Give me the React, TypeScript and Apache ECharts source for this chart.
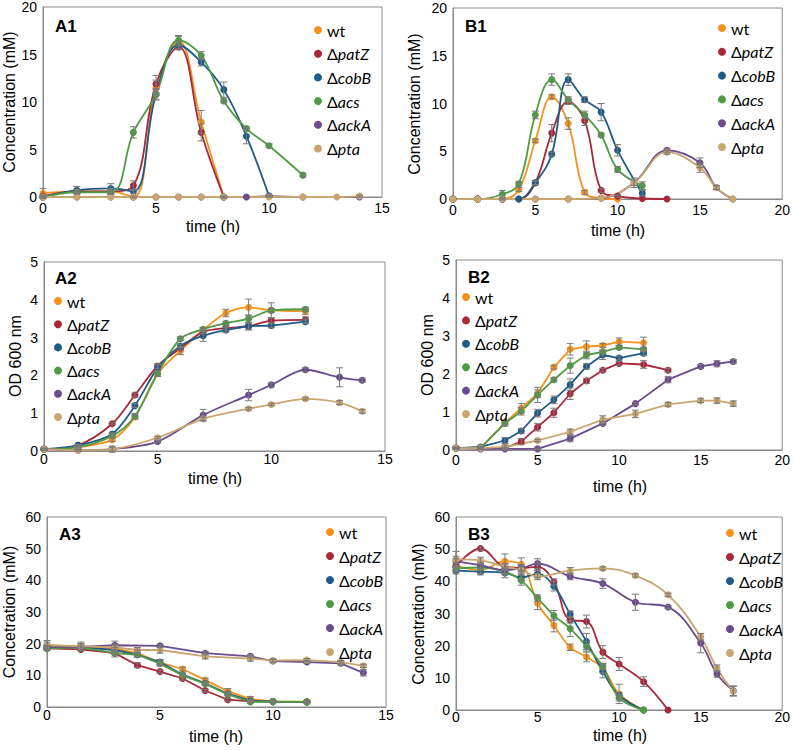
import React, { useEffect, useRef } from "react";
import * as echarts from "echarts";

// strain names and colours
const NAMES = ["wt", "ΔpatZ", "ΔcobB", "Δacs", "ΔackA", "Δpta"];
const COLORS = ["#F5921E", "#A8283A", "#1F5B86", "#4F9A43", "#6A4B8C", "#C9A56F"];
const X_TITLE = "time (h)";

// data points: [time (h), value, error]
// ---- A1: acetate (mM) ----
const A1_wt = [[0, 0.4, 0.5], [1.5, 0.6, 0.2], [3, 0.6, 0.3], [4, 0, 0.1], [5, 11.5, 0.8], [6, 16.4, 0.5], [7, 7.9, 1.2], [8, 0, 0.1]];
const A1_patZ = [[0, 0.1, 0.1], [1.5, 0.6, 0.2], [3, 0.6, 0.3], [4, 1.2, 0.5], [5, 11.9, 0.9], [6, 15.8, 0.3], [7, 6.8, 0.9], [8, 0, 0.1]];
const A1_cobB = [[0, 0, 0.1], [1.5, 0.7, 0.4], [3, 0.9, 0.5], [4, 0.6, 0.2], [5, 10.8, 0.5], [6, 16.0, 0.4], [7, 14.2, 0.4], [8, 11.3, 0.8], [9, 6.4, 0.8], [10, 0.1, 0.1]];
const A1_acs = [[0, 0, 0.1], [1.5, 0.5, 0.1], [3, 0.5, 0.2], [4, 6.8, 0.6], [5, 10.8, 0.6], [6, 16.5, 0.5], [7, 14.9, 0.4], [8, 10.1, 0.2], [9, 7.2, 0.2], [10, 5.4, 0.2], [11.5, 2.3, 0.2]];
const A1_ackA = [[0, 0, 0], [1.5, 0, 0], [3, 0, 0], [4, 0, 0], [5, 0, 0], [6, 0, 0], [7, 0, 0], [8, 0, 0], [9, 0, 0], [10, 0.1, 0.1], [11.5, 0, 0], [14, 0, 0]];
const A1_pta = [[0, 0, 0], [1.5, 0, 0], [3, 0, 0], [4, 0, 0], [5, 0, 0], [6, 0, 0], [7, 0, 0], [8, 0, 0], [10, 0, 0], [11.5, 0, 0], [13, 0, 0], [14, 0.1, 0.1]];

// ---- B1 ----
const B1_wt = [[0, 0, 0], [1.5, 0, 0], [3, 0, 0.1], [4, 1.0, 0.2], [5, 6.1, 0.2], [6, 10.7, 0.2], [7, 7.9, 0.6], [8, 0.7, 0.2], [9, 0.1, 0], [10, 0, 0]];
const B1_patZ = [[0, 0, 0], [1.5, 0, 0], [3, 0, 0], [4, 0, 0], [5, 1.7, 0.2], [6, 6.9, 0.9], [7, 10.2, 0.3], [8, 8.2, 0.5], [9, 0.9, 0.2], [10, 0.3, 0.1], [11.5, 0.05, 0], [13, 0, 0]];
const B1_cobB = [[0, 0, 0], [1.5, 0, 0], [3, 0, 0], [4, 0, 0], [5, 1.7, 0.2], [6, 4.7, 0.2], [7, 12.5, 0.6], [8, 10.4, 0.3], [9, 9.1, 0.9], [10, 5.1, 0.6], [11.5, 0.6, 0.3]];
const B1_acs = [[0, 0, 0], [1.5, 0, 0], [3, 0.5, 0.4], [4, 1.6, 0.2], [5, 8.8, 0.4], [6, 12.5, 0.6], [7, 10.4, 0.3], [8, 8.8, 0.4], [9, 6.7, 0.2], [10, 3.1, 0.3], [11.5, 1.4, 0.4]];
const B1_ackA = [[0, 0, 0], [1.5, 0, 0], [3, 0, 0], [5, 0, 0], [7, 0, 0], [9, 0.1, 0], [11, 1.7, 0.3], [13, 5.1, 0.2], [15, 3.8, 0.5], [16, 1.2, 0.2], [17, 0, 0]];
const B1_pta = [[0, 0, 0], [1.5, 0, 0], [3, 0, 0], [5, 0, 0], [7, 0, 0], [9, 0.1, 0], [11, 1.7, 0.5], [13, 4.9, 0.2], [15, 3.3, 0.5], [16, 1.2, 0.2], [17, 0, 0]];

// ---- A2: OD 600 nm ----
const A2_wt = [[0, 0.05, 0.02], [1.5, 0.1, 0.02], [3, 0.3, 0.05], [4, 0.9, 0.05], [5, 2.05, 0.08], [6, 2.65, 0.1], [7, 3.2, 0.05], [8, 3.65, 0.1], [9, 3.8, 0.22], [10, 3.72, 0.2], [11.5, 3.7, 0.08]];
const A2_patZ = [[0, 0.05, 0.02], [1.5, 0.15, 0.02], [3, 0.72, 0.03], [4, 1.48, 0.05], [5, 2.25, 0.06], [6, 2.72, 0.05], [7, 3.15, 0.05], [8, 3.25, 0.05], [9, 3.3, 0.08], [10, 3.45, 0.08], [11.5, 3.47, 0.08]];
const A2_cobB = [[0, 0.05, 0.02], [1.5, 0.15, 0.02], [3, 0.45, 0.03], [4, 1.2, 0.05], [5, 2.2, 0.08], [6, 2.78, 0.05], [7, 3.05, 0.15], [8, 3.2, 0.06], [9, 3.3, 0.1], [10, 3.32, 0.06], [11.5, 3.42, 0.05]];
const A2_acs = [[0, 0.05, 0.02], [1.5, 0.1, 0.02], [3, 0.4, 0.03], [4, 0.92, 0.07], [5, 2.05, 0.07], [6, 2.97, 0.05], [7, 3.22, 0.05], [8, 3.38, 0.05], [9, 3.5, 0.1], [10, 3.72, 0.05], [11.5, 3.75, 0.05]];
const A2_ackA = [[0, 0.05, 0.02], [1.5, 0.02, 0.02], [3, 0.05, 0.08], [5, 0.25, 0.03], [7, 0.95, 0.15], [9, 1.48, 0.15], [10, 1.75, 0.05], [11.5, 2.15, 0.05], [13, 1.95, 0.25], [14, 1.87, 0.05]];
const A2_pta = [[0, 0.05, 0.02], [1.5, 0.02, 0.02], [3, 0.05, 0.05], [5, 0.35, 0.03], [7, 0.85, 0.05], [9, 1.12, 0.03], [10, 1.23, 0.03], [11.5, 1.38, 0.03], [13, 1.28, 0.05], [14, 1.05, 0.05]];

// ---- B2 ----
const B2_wt = [[0, 0.05, 0.02], [1.5, 0.05, 0.02], [3, 0.72, 0.05], [4, 1.1, 0.12], [5, 1.48, 0.1], [6, 2.18, 0.05], [7, 2.65, 0.15], [8, 2.72, 0.15], [9, 2.75, 0.05], [10, 2.85, 0.1], [11.5, 2.82, 0.15]];
const B2_patZ = [[0, 0.05, 0.02], [1.5, 0.05, 0.02], [3, 0.05, 0.02], [4, 0.22, 0.08], [5, 0.6, 0.1], [6, 0.98, 0.12], [7, 1.48, 0.15], [8, 1.82, 0.07], [9, 2.1, 0.05], [10, 2.28, 0.05], [11.5, 2.25, 0.1], [13, 2.1, 0.05]];
const B2_cobB = [[0, 0.05, 0.02], [1.5, 0.08, 0.02], [3, 0.25, 0.08], [4, 0.5, 0.06], [5, 0.97, 0.1], [6, 1.32, 0.1], [7, 1.72, 0.15], [8, 2.2, 0.07], [9, 2.5, 0.12], [10, 2.42, 0.05], [11.5, 2.55, 0.06]];
const B2_acs = [[0, 0.05, 0.02], [1.5, 0.05, 0.02], [3, 0.7, 0.07], [4, 1.02, 0.1], [5, 1.45, 0.2], [6, 1.85, 0.05], [7, 2.22, 0.2], [8, 2.5, 0.1], [9, 2.58, 0.05], [10, 2.7, 0.05], [11.5, 2.65, 0.05]];
const B2_ackA = [[0, 0.05, 0.02], [1.5, 0.03, 0.02], [3, 0.03, 0.02], [5, 0.03, 0.02], [7, 0.3, 0.08], [9, 0.7, 0.05], [11, 1.22, 0.03], [13, 1.85, 0.08], [15, 2.2, 0.05], [16, 2.27, 0.08], [17, 2.33, 0.05]];
const B2_pta = [[0, 0.05, 0.02], [1.5, 0.05, 0.02], [3, 0.08, 0.05], [5, 0.25, 0.03], [7, 0.48, 0.07], [9, 0.8, 0.1], [11, 0.95, 0.1], [13, 1.2, 0.05], [15, 1.3, 0.05], [16, 1.3, 0.07], [17, 1.22, 0.07]];

// ---- A3: glucose (mM) ----
const A3_wt = [[0, 19.5, 1.5], [1.5, 19, 1], [3, 18.5, 1], [4, 17, 1], [5, 14, 1], [6, 12, 0.6], [7, 8.5, 0.6], [8, 5, 0.8], [9, 2.5, 0.8], [10, 1.8, 0.3], [11.5, 1.7, 0.3]];
const A3_patZ = [[0, 18.5, 0.5], [1.5, 18.2, 0.5], [3, 17, 1.2], [4, 13.2, 0.8], [5, 11.2, 0.5], [6, 9, 0.5], [7, 5.2, 0.4], [8, 2.3, 0.4], [9, 1.8, 0.3], [10, 1.7, 0.3], [11.5, 1.6, 0.3]];
const A3_cobB = [[0, 18.8, 0.5], [1.5, 18.8, 0.5], [3, 18, 0.8], [4, 16.5, 0.8], [5, 14.2, 0.8], [6, 10.2, 0.5], [7, 7.5, 0.5], [8, 4.2, 0.5], [9, 2, 0.3], [10, 1.7, 0.3], [11.5, 1.6, 0.3]];
const A3_acs = [[0, 18.5, 0.5], [1.5, 18.8, 0.5], [3, 17, 0.5], [4, 16.5, 0.5], [5, 13.7, 0.5], [6, 10, 0.5], [7, 7.3, 0.5], [8, 4, 0.5], [9, 1.6, 0.3], [10, 1.7, 0.3], [11.5, 1.6, 0.3]];
const A3_ackA = [[0, 19, 0.5], [1.5, 19, 1], [3, 19.5, 1.3], [5, 19.3, 0.5], [7, 17, 0.5], [9, 16, 0.5], [10, 14.5, 0.5], [11.5, 14.2, 0.5], [13, 13.8, 0.5], [14, 10.8, 1]];
const A3_pta = [[0, 19.5, 1], [1.5, 19.2, 1.3], [3, 18.8, 1], [4, 18, 0.8], [5, 18, 1], [7, 16, 0.8], [9, 15.3, 0.8], [10, 14.7, 0.5], [11.5, 14.8, 0.5], [13, 14.2, 0.5], [14, 13, 0.5]];

// ---- B3 ----
const B3_wt = [[0, 45, 2], [1.5, 43.5, 1], [3, 46.2, 2.3], [4, 45.3, 2], [5, 33.2, 2], [6, 26.3, 2], [7, 19.5, 1], [8, 16.5, 1.5], [9, 13, 1.5], [10, 5, 3], [11.5, 0, 0]];
const B3_patZ = [[0, 44.7, 1], [1.5, 50.2, 0.5], [3, 44.5, 1], [4, 44.2, 1], [5, 44.5, 1], [6, 39.8, 1], [7, 28, 1], [8, 27.5, 2], [9, 18, 2], [10, 14.3, 2], [11.5, 8.8, 1.5], [13, 0, 0]];
const B3_cobB = [[0, 43.3, 1], [1.5, 43, 1], [3, 42.6, 1.5], [4, 41.2, 1], [5, 42.3, 1], [6, 38.5, 1.5], [7, 29.8, 1], [8, 21.3, 2.5], [9, 12, 2], [10, 4.5, 1], [11.5, 0, 0]];
const B3_acs = [[0, 44, 1], [1.5, 44.3, 1], [3, 43, 1], [4, 40.3, 1.5], [5, 34.8, 1], [6, 29.4, 1.5], [7, 25.3, 2.5], [8, 19.8, 1.5], [9, 13.5, 1], [10, 3.8, 1], [11.5, 0, 0]];
const B3_ackA = [[0, 46.3, 1.5], [1.5, 45, 1], [3, 43.5, 1], [4, 44, 1], [5, 45.5, 1.5], [7, 41.5, 1], [9, 39.3, 1.5], [11, 33.5, 2.5], [13, 32, 0.5], [15, 20.8, 3], [16, 11.2, 1], [17, 6, 1.5]];
const B3_pta = [[0, 46.8, 2.5], [1.5, 46.5, 1], [3, 44.5, 1], [4, 43.5, 1], [5, 41.5, 1], [7, 43.3, 1], [9, 44, 0.5], [11, 41.8, 0.5], [13, 35.8, 0.5], [15, 22.8, 1], [16, 13, 1], [17, 5.8, 1.5]];

type Panel = {
  id: string;
  series: number[][][];
  grid: { left: number; top: number; width: number; height: number };
  xMax: number;
  yMax: number;
  yInt: number;
  yName: string;
  yTitlePos: [number, number];
  xTitlePos: [number, number];
  xLabelMargin: number;
  smooth: number | false;
  legend: { left: number; top: number; gap: number };
  label: { left: number; top: number };
};

const PANELS: Panel[] = [
  {
    id: "A1", series: [A1_wt, A1_patZ, A1_cobB, A1_acs, A1_ackA, A1_pta],
    grid: { left: 43, top: 7, width: 339, height: 190 }, xMax: 15, yMax: 20, yInt: 5,
    yName: "Concentration (mM)", yTitlePos: [9, 102], xTitlePos: [213, 226], xLabelMargin: 4, smooth: 0.4,
    legend: { left: 314, top: 22, gap: 7.7 }, label: { left: 55, top: 18 },
  },
  {
    id: "B1", series: [B1_wt, B1_patZ, B1_cobB, B1_acs, B1_ackA, B1_pta],
    grid: { left: 453, top: 8, width: 331, height: 191 }, xMax: 20, yMax: 20, yInt: 5,
    yName: "Concentration (mM)", yTitlePos: [414, 104], xTitlePos: [618, 230], xLabelMargin: 4, smooth: 0.4,
    legend: { left: 718, top: 20, gap: 7.8 }, label: { left: 465, top: 18 },
  },
  {
    id: "A2", series: [A2_wt, A2_patZ, A2_cobB, A2_acs, A2_ackA, A2_pta],
    grid: { left: 44, top: 262, width: 341, height: 189 }, xMax: 15, yMax: 5, yInt: 1,
    yName: "OD 600 nm", yTitlePos: [15, 356], xTitlePos: [215, 478], xLabelMargin: 1, smooth: 0.3,
    legend: { left: 54, top: 293, gap: 7.2 }, label: { left: 55, top: 270 },
  },
  {
    id: "B2", series: [B2_wt, B2_patZ, B2_cobB, B2_acs, B2_ackA, B2_pta],
    grid: { left: 456, top: 260, width: 329, height: 190 }, xMax: 20, yMax: 5, yInt: 1,
    yName: "OD 600 nm", yTitlePos: [427, 355], xTitlePos: [620, 486], xLabelMargin: 3, smooth: false,
    legend: { left: 462, top: 289, gap: 7.4 }, label: { left: 468, top: 269 },
  },
  {
    id: "A3", series: [A3_wt, A3_patZ, A3_cobB, A3_acs, A3_ackA, A3_pta],
    grid: { left: 47, top: 517, width: 339, height: 190 }, xMax: 15, yMax: 60, yInt: 10,
    yName: "Concetration (mM)", yTitlePos: [9, 612], xTitlePos: [216, 736], xLabelMargin: 1, smooth: false,
    legend: { left: 326, top: 524, gap: 8 }, label: { left: 59, top: 526 },
  },
  {
    id: "B3", series: [B3_wt, B3_patZ, B3_cobB, B3_acs, B3_ackA, B3_pta],
    grid: { left: 456, top: 517, width: 327, height: 193 }, xMax: 20, yMax: 60, yInt: 10,
    yName: "Concentration (mM)", yTitlePos: [418, 614], xTitlePos: [620, 735], xLabelMargin: 0, smooth: 0.4,
    legend: { left: 726, top: 525, gap: 8 }, label: { left: 468, top: 526 },
  },
];

const FRAME = "#8a8a8a";
const FONT = "Liberation Sans, Arial, sans-serif";
const LEGEND_FONT = "Lato, 'Open Sans', sans-serif";

function buildOption() {
  const series: any[] = [];
  PANELS.forEach((p, pi) => {
    p.series.forEach((pts, si) => {
      series.push({
        type: "line",
        name: NAMES[si],
        xAxisIndex: pi,
        yAxisIndex: pi,
        data: pts.map((d) => [d[0], d[1]]),
        smooth: p.smooth,
        symbol: "circle",
        symbolSize: 7,
        showSymbol: true,
        color: COLORS[si],
        lineStyle: { width: 1.8, color: COLORS[si] },
        itemStyle: { color: COLORS[si] },
        emphasis: { disabled: true },
        z: 2,
      });
    });
    const all: number[][] = [];
    p.series.forEach((pts) => pts.forEach((d) => all.push(d)));
    series.push({
      type: "custom",
      xAxisIndex: pi,
      yAxisIndex: pi,
      data: all,
      encode: { x: 0, y: 1 },
      z: 3,
      silent: true,
      renderItem: (params: any, api: any) => {
        const x = api.value(0);
        const y = api.value(1);
        const e = api.value(2);
        if (!e) return null;
        const top = api.coord([x, y + e]);
        const bot = api.coord([x, y - e]);
        const cap = 3.5;
        const st = { stroke: "#7a7a7a", lineWidth: 1 };
        return {
          type: "group",
          children: [
            { type: "line", shape: { x1: top[0], y1: top[1], x2: bot[0], y2: bot[1] }, style: st },
            { type: "line", shape: { x1: top[0] - cap, y1: top[1], x2: top[0] + cap, y2: top[1] }, style: st },
            { type: "line", shape: { x1: bot[0] - cap, y1: bot[1], x2: bot[0] + cap, y2: bot[1] }, style: st },
          ],
        };
      },
    });
  });

  const graphics: any[] = [];
  PANELS.forEach((p) => {
    graphics.push({
      type: "text",
      x: p.yTitlePos[0],
      y: p.yTitlePos[1],
      rotation: Math.PI / 2,
      silent: true,
      style: { text: p.yName, fontFamily: FONT, fontSize: 16, fill: "#000", align: "center", verticalAlign: "middle" },
    });
    graphics.push({
      type: "text",
      x: p.xTitlePos[0],
      y: p.xTitlePos[1],
      silent: true,
      style: { text: X_TITLE, fontFamily: FONT, fontSize: 16, fill: "#000", align: "center", verticalAlign: "middle" },
    });
  });

  return {
    animation: false,
    backgroundColor: "#ffffff",
    title: PANELS.map((p) => ({
      text: p.id,
      left: p.label.left,
      top: p.label.top,
      padding: 0,
      textStyle: { fontFamily: FONT, fontSize: 17, fontWeight: "bold", color: "#000" },
    })),
    graphic: graphics,
    grid: PANELS.map((p) => ({
      ...p.grid,
      show: true,
      borderColor: FRAME,
      borderWidth: 1,
      backgroundColor: "transparent",
    })),
    xAxis: PANELS.map((p, i) => ({
      type: "value",
      gridIndex: i,
      min: 0,
      max: p.xMax,
      interval: 5,
      axisLine: { show: true, onZero: false, lineStyle: { color: FRAME, width: 1 } },
      axisTick: { show: false },
      splitLine: { show: false },
      axisLabel: { margin: p.xLabelMargin, fontFamily: FONT, fontSize: 14, color: "#000" },
    })),
    yAxis: PANELS.map((p, i) => ({
      type: "value",
      gridIndex: i,
      min: 0,
      max: p.yMax,
      interval: p.yInt,
      axisLine: { show: true, onZero: false, lineStyle: { color: FRAME, width: 1 } },
      axisTick: { show: false },
      splitLine: { show: false },
      axisLabel: { margin: 6, fontFamily: FONT, fontSize: 14, color: "#000" },
    })),
    legend: PANELS.map((p) => ({
      data: NAMES,
      left: p.legend.left,
      top: p.legend.top,
      orient: "vertical",
      itemGap: p.legend.gap,
      itemWidth: 8,
      itemHeight: 8,
      icon: "circle",
      selectedMode: false,
      padding: 0,
      formatter: (name: string) => (name === "wt" ? name : "Δ{i|" + name.slice(1) + "}"),
      textStyle: {
        fontFamily: LEGEND_FONT,
        fontSize: 16,
        lineHeight: 16,
        color: "#000",
        rich: { i: { fontFamily: LEGEND_FONT, fontSize: 16, lineHeight: 16, fontStyle: "italic", color: "#000" } },
      },
    })),
    series,
  };
}

export default function App() {
  const ref = useRef<HTMLDivElement>(null);
  useEffect(() => {
    document.body.style.margin = "0";
    if (!ref.current) return;
    const chart = echarts.init(ref.current, undefined, { renderer: "svg" });
    chart.setOption(buildOption() as any);
    return () => chart.dispose();
  }, []);
  return <div ref={ref} style={{ width: 793, height: 750 }} />;
}
